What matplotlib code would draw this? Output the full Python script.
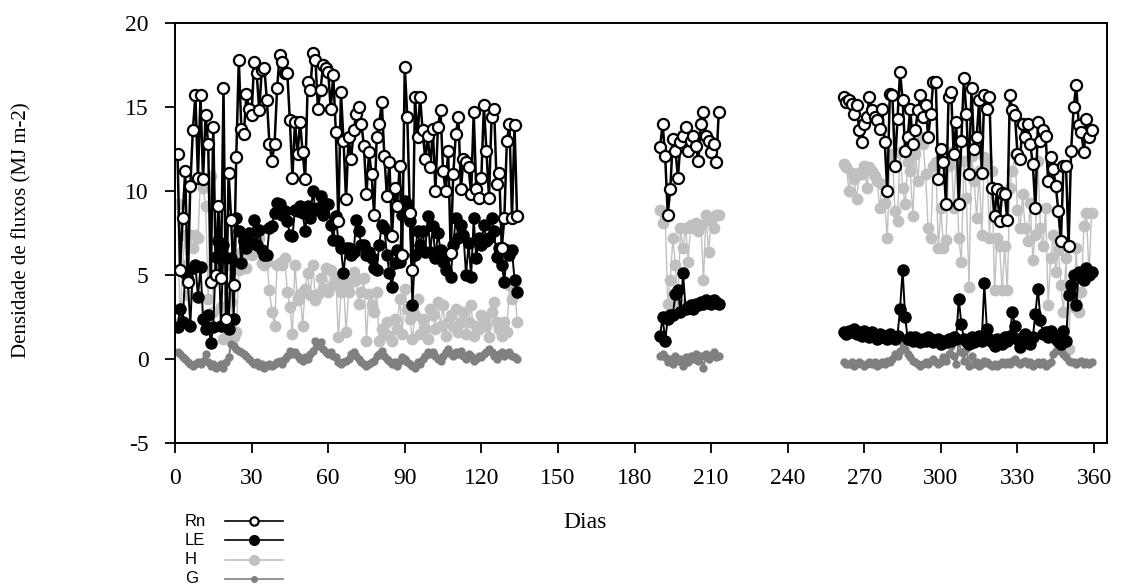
import numpy as np
import matplotlib
matplotlib.use('Agg')
import matplotlib.pyplot as plt
from matplotlib.lines import Line2D

plt.rcParams['axes.unicode_minus'] = False

# days of each measurement period
days1 = np.arange(1, 135)
days2 = np.arange(190, 214)
days3 = np.arange(262, 360)

# Rn - saldo de radiacao
rn1 = [12.2, 5.3, 8.4, 11.2, 4.6, 10.3, 13.6, 15.7, 10.8, 15.7,
       10.7, 14.5, 12.8, 4.6, 13.8, 5.0, 9.1, 4.8, 16.1, 2.4,
       11.1, 8.3, 4.4, 12.0, 17.8, 13.7, 13.4, 15.8, 14.9, 14.5,
       17.7, 17.0, 14.8, 17.2, 17.3, 15.4, 12.8, 11.8, 12.8, 16.1,
       18.1, 17.7, 17.0, 17.0, 14.2, 10.8, 14.1, 12.2, 14.1, 12.3,
       10.7, 16.5, 16.0, 18.2, 17.8, 14.9, 16.0, 17.5, 17.3, 17.1,
       14.9, 16.9, 13.5, 8.2, 15.9, 13.0, 9.5, 13.2, 11.9, 13.6,
       14.6, 15.0, 14.0, 12.7, 9.8, 12.3, 11.0, 8.6, 13.2, 14.0,
       15.3, 12.1, 9.7, 11.7, 7.3, 10.2, 9.1, 11.5, 6.2, 17.4,
       14.4, 8.7, 5.3, 15.6, 13.2, 15.6, 13.6, 11.9, 13.3, 11.4,
       13.7, 10.0, 13.8, 14.8, 11.2, 10.0, 12.4, 6.3, 11.0, 13.4,
       14.4, 10.1, 11.9, 11.7, 11.4, 9.8, 14.7, 10.1, 9.6, 10.8,
       15.1, 12.4, 9.6, 14.4, 14.9, 10.4, 11.1, 6.6, 8.4, 13.0,
       14.0, 8.4, 13.9, 8.5]
rn2 = [12.6, 14.0, 12.1, 8.6, 10.1, 13.1, 12.4, 10.8, 12.9, 13.3,
       13.8, 12.4, 13.0, 13.3, 12.7, 11.8, 14.0, 14.7, 13.3, 13.0,
       12.3, 12.8, 11.7, 14.7]
rn3 = [15.6, 15.3, 15.4, 15.2, 14.6, 15.1, 13.6, 12.9, 14.0, 14.4,
       15.6, 14.8, 14.4, 14.2, 13.7, 14.9, 12.9, 10.0, 15.8, 15.7,
       11.5, 14.3, 17.1, 15.4, 12.4, 13.2, 14.9, 12.8, 13.6, 14.8,
       15.7, 14.4, 15.1, 13.2, 14.6, 16.5, 16.5, 10.7, 12.5, 11.7,
       9.2, 15.6, 15.9, 12.2, 14.1, 9.2, 13.0, 16.7, 14.6, 11.0,
       16.1, 12.5, 13.2, 15.4, 11.1, 15.7, 14.9, 15.6, 10.2, 8.5,
       10.1, 8.2, 9.9, 9.8, 8.3, 15.7, 14.8, 14.5, 12.2, 11.9,
       14.0, 13.2, 14.0, 12.8, 11.6, 9.0, 14.1, 13.0, 13.6, 13.3,
       10.6, 12.0, 11.3, 10.3, 8.8, 7.0, 11.5, 11.5, 6.7, 12.4,
       15.0, 16.3, 13.9, 13.5, 12.3, 14.3, 13.2, 13.6]

# LE - calor latente
le1 = [1.9, 3.0, 2.2, 5.1, 4.7, 2.0, 5.4, 5.6, 3.7, 5.5,
       2.4, 1.8, 2.6, 0.95, 1.9, 6.1, 7.0, 2.0, 6.8, 6.0,
       1.8, 6.0, 2.4, 8.4, 7.6, 5.7, 7.0, 6.6, 7.5, 6.9,
       8.3, 6.8, 7.7, 6.5, 6.2, 6.2, 7.8, 7.9, 8.7, 9.3,
       9.2, 8.6, 8.8, 8.2, 7.4, 7.3, 8.9, 8.8, 9.1, 8.7,
       7.6, 9.1, 8.4, 10.0, 8.9, 9.0, 9.7, 8.6, 9.2, 9.2,
       8.0, 7.1, 8.5, 7.0, 6.6, 5.1, 6.6, 6.6, 6.2, 6.4,
       8.3, 7.6, 6.8, 6.8, 6.2, 6.4, 6.0, 5.4, 5.3, 6.8,
       8.0, 7.8, 6.2, 5.1, 4.3, 5.7, 6.5, 5.8, 8.6, 9.4,
       9.2, 8.2, 3.2, 6.2, 7.6, 6.8, 7.6, 6.4, 8.5, 6.4,
       7.9, 6.0, 7.5, 6.5, 5.8, 5.3, 6.2, 4.9, 6.8, 8.4,
       7.2, 8.0, 7.4, 5.0, 6.9, 4.9, 8.4, 6.0, 7.2, 6.8,
       8.0, 7.0, 7.2, 8.4, 7.6, 6.1, 6.6, 5.6, 4.6, 6.5,
       6.2, 6.5, 4.7, 4.0]
le2 = [1.4, 2.5, 1.1, 2.4, 2.6, 2.6, 3.9, 4.1, 2.8, 5.1,
       3.0, 3.1, 3.2, 3.0, 3.3, 3.2, 3.4, 3.3, 3.5, 3.4,
       3.3, 3.5, 3.4, 3.3]
le3 = [1.6, 1.5, 1.7, 1.6, 1.8, 1.5, 1.6, 1.4, 1.7, 1.5,
       1.3, 1.6, 1.4, 1.2, 1.5, 1.3, 1.4, 1.2, 1.5, 1.3,
       1.2, 1.4, 3.0, 5.3, 2.5, 1.2, 1.3, 1.1, 1.3, 1.2,
       1.0, 1.2, 1.1, 1.3, 1.2, 1.0, 1.1, 1.2, 0.9, 1.1,
       1.0, 1.2, 1.1, 1.3, 1.2, 3.6, 2.1, 1.2, 1.1, 0.9,
       1.3, 1.0, 1.2, 1.4, 1.1, 4.5, 1.8, 1.2, 1.0, 0.8,
       1.2, 1.0, 0.9, 1.3, 1.1, 1.4, 2.8, 2.0, 1.2, 0.7,
       1.3, 1.5, 1.2, 0.9, 1.3, 2.7, 4.2, 2.3, 1.5, 1.6,
       1.3, 1.7, 1.5, 1.2, 1.1, 0.9, 1.7, 1.1, 3.8, 4.4,
       5.0, 3.2, 5.2, 4.9, 4.7, 5.4, 5.0, 5.2]

# H - calor sensivel
h1 = [9.2, 2.2, 5.6, 7.4, 3.8, 7.4, 6.6, 7.4, 7.2, 10.8,
      10.2, 9.1, 3.6, 10.9, 2.8, 7.1, 5.2, 3.1, 1.2, 5.6,
      4.0, 3.4, 1.3, 1.6, 5.3, 6.4, 7.3, 5.4, 7.1, 6.2,
      7.1, 6.7, 7.2, 5.7, 5.6, 5.8, 4.1, 2.8, 2.0, 5.6,
      5.7, 5.6, 6.0, 4.0, 3.1, 1.5, 5.6, 3.5, 3.9, 2.0,
      4.2, 5.1, 3.8, 5.6, 3.5, 3.9, 4.8, 4.2, 5.4, 4.0,
      5.3, 4.4, 4.8, 1.3, 4.0, 4.6, 1.6, 4.0, 4.6, 5.2,
      4.7, 3.3, 4.0, 4.8, 1.1, 3.9, 3.2, 2.8, 4.0, 1.1,
      1.8, 1.6, 2.2, 1.4, 1.1, 2.4, 1.8, 3.6, 1.5, 4.2,
      3.0, 2.4, 1.2, 2.6, 3.6, 1.5, 2.4, 1.8, 1.2, 3.0,
      2.6, 1.8, 3.4, 2.0, 3.2, 1.4, 2.2, 2.6, 2.0, 3.0,
      1.6, 2.2, 2.8, 1.5, 2.2, 3.2, 1.4, 2.0, 1.8, 2.6,
      2.4, 2.0, 1.3, 2.8, 3.4, 2.2, 1.8, 1.4, 2.2, 1.6,
      4.4, 3.6, 4.6, 2.2]
h2 = [8.9, 8.1, 8.6, 3.3, 4.7, 7.2, 5.6, 3.4, 7.8, 6.6,
      7.8, 5.8, 8.0, 7.8, 8.1, 7.6, 8.0, 4.7, 8.6, 6.4,
      8.2, 7.8, 8.6, 8.6]
h3 = [11.6, 11.4, 10.0, 11.1, 10.7, 9.5, 11.1, 11.0, 11.5, 10.2,
      11.4, 11.2, 10.9, 10.6, 9.0, 10.4, 9.3, 7.2, 11.8, 12.2,
      8.8, 8.2, 12.3, 10.2, 9.2, 11.7, 11.2, 8.5, 12.2, 10.6,
      13.2, 12.8, 11.0, 7.8, 7.2, 11.5, 11.7, 6.6, 9.0, 6.6,
      7.1, 11.5, 12.3, 9.0, 12.0, 7.2, 5.8, 11.8, 9.6, 4.3,
      12.1, 10.6, 8.4, 11.2, 7.4, 12.0, 11.8, 7.2, 11.2, 4.1,
      7.2, 6.7, 4.1, 6.7, 4.1, 10.2, 11.2, 12.2, 8.9, 7.8,
      9.8, 7.8, 7.0, 9.3, 5.9, 7.4, 11.8, 7.8, 6.7, 9.0,
      3.2, 6.0, 7.4, 5.2, 6.5, 4.4, 2.8, 6.0, 0.6, 4.4,
      3.1, 6.6, 2.8, 4.0, 7.9, 8.7, 5.0, 8.7]

# G - fluxo de calor no solo
g1 = [0.4, 0.3, 0.1, 0.0, -0.2, -0.3, -0.4, -0.3, -0.2, -0.3,
      -0.1, 0.3, -0.2, -0.4, -0.3, -0.5, -0.4, -0.3, -0.5, -0.2,
      0.1, 0.9, 0.8, 0.6, 0.5, 0.4, 0.3, 0.2, 0.0, -0.2,
      -0.3, -0.2, -0.4, -0.3, -0.5, -0.4, -0.3, -0.4, -0.3, -0.2,
      -0.1, -0.3, 0.0, 0.2, 0.5, 0.3, 0.4, 0.2, 0.0, -0.1,
      0.1, 0.0, 0.3, 0.5, 1.1, 0.8, 1.0, 0.6, 0.4, 0.3,
      0.4, 0.2, 0.1, -0.2, -0.3, -0.2, -0.1, 0.0, 0.3, 0.4,
      0.2, 0.0, -0.2, -0.3, -0.4, -0.3, -0.2, -0.1, 0.2, 0.3,
      0.5, 0.2, 0.0, -0.1, -0.3, -0.2, -0.4, -0.1, 0.1, 0.0,
      -0.2, -0.3, -0.4, -0.5, -0.2, -0.3, 0.0, 0.2, 0.4, 0.3,
      0.4, 0.2, 0.0, -0.1, 0.2, 0.4, 0.6, 0.3, 0.2, 0.4,
      0.3, 0.5, 0.2, 0.0, 0.3, 0.2, -0.1, 0.0, 0.2, 0.1,
      0.3, 0.4, 0.6, 0.4, 0.2, 0.0, 0.3, 0.4, 0.2, 0.3,
      0.4, 0.2, 0.1, 0.0]
g2 = [0.2, 0.3, 0.1, -0.2, 0.0, -0.3, 0.2, -0.1, 0.0, -0.4,
      0.1, -0.2, 0.2, 0.0, 0.3, -0.1, 0.2, -0.5, 0.3, 0.0,
      0.2, 0.4, 0.1, 0.2]
g3 = [-0.2, -0.3, -0.3, -0.2, -0.4, -0.3, -0.2, -0.3, -0.4, -0.3,
      -0.2, -0.3, -0.2, -0.4, -0.3, -0.2, -0.3, -0.1, -0.2, 0.0,
      0.3, 0.2, 0.5, 0.9, 0.6, 0.3, 0.1, -0.1, -0.2, -0.3,
      -0.4, -0.3, -0.2, -0.3, -0.1, 0.0, -0.2, -0.3, -0.2, 0.1,
      -0.1, 0.3, 0.8, 0.2, -0.3, 1.1, 0.4, -0.1, 0.6, -0.4,
      0.2, -0.3, -0.2, -0.4, -0.3, -0.1, -0.2, -0.3, -0.4, -0.3,
      -0.4, -0.3, -0.2, -0.3, -0.2, -0.3, -0.1, 0.0, -0.2, -0.3,
      -0.2, -0.1, -0.3, -0.2, -0.4, -0.3, -0.2, -0.3, -0.2, -0.4,
      -0.3, -0.2, 0.3, 0.5, 0.8, 0.5, 0.3, 0.1, -0.1, -0.2,
      -0.2, -0.3, -0.2, -0.1, -0.3, -0.2, -0.3, -0.2]

series = [
    ('H', [h1, h2, h3], dict(color='#c0c0c0', lw=1.0, marker='o', ms=7.5,
                             mfc='#c0c0c0', mec='#c0c0c0')),
    ('G', [g1, g2, g3], dict(color='#808080', lw=1.5, marker='o', ms=5,
                             mfc='#808080', mec='#808080')),
    ('LE', [le1, le2, le3], dict(color='black', lw=1.4, marker='o', ms=8,
                                 mfc='black', mec='black')),
    ('Rn', [rn1, rn2, rn3], dict(color='black', lw=1.8, marker='o', ms=8,
                                 mfc='white', mec='black', mew=1.6)),
]

fig = plt.figure(figsize=(11.26, 5.87), dpi=100)
ax = fig.add_axes([0.1554, 0.245, 0.8276, 0.716])

for name, segs, st in series:
    for d, v in zip([days1, days2, days3], segs):
        ax.plot(d, v, **st)

ax.set_xlim(0, 365)
ax.set_ylim(-5, 20)
ax.set_xticks(np.arange(0, 361, 30))
ax.set_yticks(np.arange(-5, 21, 5))
ax.tick_params(direction='out', length=7, width=1.3)
ax.tick_params(axis='x', pad=11)
ax.tick_params(axis='y', pad=12)
for lab in ax.get_xticklabels() + ax.get_yticklabels():
    lab.set_fontfamily('Liberation Serif')
    lab.set_fontsize(17)
for sp in ax.spines.values():
    sp.set_linewidth(1.4)

fig.text(0.52, 1 - 523 / 587, 'Dias', ha='center', va='center',
         fontfamily='Liberation Serif', fontsize=17)
fig.text(22 / 1126, 1 - 230 / 587, 'Densidade de fluxos (MJ m-2)',
         rotation=90, ha='center', va='center',
         fontfamily='Liberation Serif', fontsize=15)

# legend drawn by hand: labels left-aligned, symbols to their right
leg_names = ['Rn', 'LE', 'H', 'G']
leg_ms = {'Rn': 6, 'LE': 7, 'H': 7, 'G': 4}
styles = {n: st for n, _, st in series}
for i, n in enumerate(leg_names):
    y = 1 - (521 + 19.3 * i) / 587
    fig.text(185 / 1126, y, n, ha='left', va='center',
             fontfamily='Liberation Sans', fontsize=12)
    st = styles[n]
    fig.add_artist(Line2D([225 / 1126, 283 / 1126], [y, y],
                          transform=fig.transFigure, color=st['color'], lw=1.2))
    fig.add_artist(Line2D([254 / 1126], [y], transform=fig.transFigure,
                          linestyle='none', marker='o', ms=leg_ms[n],
                          mfc=st['mfc'], mec=st['mec'],
                          mew=st.get('mew', 1.0)))

fig.savefig('out.png', dpi=100)
